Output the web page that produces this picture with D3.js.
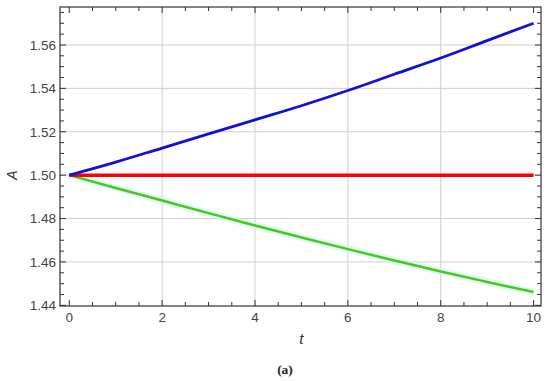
<!DOCTYPE html>
<html><head><meta charset="utf-8">
<script src="https://cdn.jsdelivr.net/npm/d3@7"></script>
<style>body{margin:0;background:#fff;} text{font-family:"Liberation Sans",Arial,sans-serif;}</style>
</head><body><svg id="c" width="550" height="381"></svg>
<script>
const tValues = [0,1,2,3,4,5,6,7,8,9,10];
const blueA  = [1.5,1.506,1.5125,1.519,1.5255,1.532,1.539,1.5465,1.554,1.562,1.570];
const redA   = [1.5,1.5,1.5,1.5,1.5,1.5,1.5,1.5,1.5,1.5,1.5];
const greenA = [1.5,1.4941,1.4883,1.4825,1.4768,1.4713,1.4659,1.4607,1.4556,1.4508,1.4461];
const xTicks = [0,2,4,6,8,10];
const yTicks = [1.44,1.46,1.48,1.50,1.52,1.54,1.56];

const svg = d3.select("#c");
const L=60,R=541,T=7,B=306;
const x = d3.scaleLinear().domain([-0.2,10.16]).range([L,R]);
const y = d3.scaleLinear().domain([1.4397,1.5775]).range([B,T]);

const g = svg.append("g");
g.selectAll(".gx").data(xTicks.filter(d=>d>0&&d<10)).enter().append("line")
 .attr("x1",d=>x(d)).attr("x2",d=>x(d)).attr("y1",T).attr("y2",B)
 .attr("stroke","#cfcfcf").attr("stroke-width",1);
g.selectAll(".gy").data(yTicks.filter(d=>d>1.441)).enter().append("line")
 .attr("y1",d=>y(d)).attr("y2",d=>y(d)).attr("x1",L).attr("x2",R)
 .attr("stroke","#cfcfcf").attr("stroke-width",1);

const line = arr => d3.line().x((d,i)=>x(tValues[i])).y(d=>y(d)).curve(d3.curveMonotoneX)(arr);
svg.append("path").attr("d",line(greenA)).attr("fill","none").attr("stroke","#c8fbf0").attr("stroke-width",7).attr("opacity",0.6);
svg.append("path").attr("d",line(greenA)).attr("fill","none").attr("stroke","#4cc61a").attr("stroke-width",2.5);
svg.append("path").attr("d",line(redA)).attr("fill","none").attr("stroke","#ff0000").attr("stroke-width",3.5);
svg.append("path").attr("d",line(blueA)).attr("fill","none").attr("stroke","#1010d8").attr("stroke-width",2.8);

const col="#333";
const xMinor = d3.range(0,10.01,0.5);
const yMinor = d3.range(1.44,1.5751,0.005);
function xAx(pos, dir){
  const a = svg.append("g");
  a.selectAll("line").data(xMinor).enter().append("line")
   .attr("x1",d=>x(d)).attr("x2",d=>x(d)).attr("y1",pos)
   .attr("y2",d=>pos+dir*(Math.abs(d/2-Math.round(d/2))<1e-6?6:4))
   .attr("stroke",col).attr("stroke-width",1);
}
function yAx(pos, dir){
  const a = svg.append("g");
  a.selectAll("line").data(yMinor).enter().append("line")
   .attr("y1",d=>y(d)).attr("y2",d=>y(d)).attr("x1",pos)
   .attr("x2",d=>{const k=Math.round(d*1000); return pos+dir*(k%20===0?6:4);})
   .attr("stroke",col).attr("stroke-width",1);
}
xAx(B,-1); xAx(T,1); yAx(L,1); yAx(R,-1);
svg.append("rect").attr("x",L).attr("y",T).attr("width",R-L).attr("height",B-T)
 .attr("fill","none").attr("stroke",col).attr("stroke-width",1.2);

svg.selectAll(".xl").data(xTicks).enter().append("text")
 .attr("x",d=>x(d)).attr("y",B+15.5).attr("text-anchor","middle")
 .attr("font-size",13.5).attr("fill","#444").text(d=>d);
svg.selectAll(".yl").data(yTicks).enter().append("text")
 .attr("x",L-4).attr("y",d=>y(d)+4.8).attr("text-anchor","end")
 .attr("font-size",13.5).attr("fill","#444").text(d=>d.toFixed(2));
svg.append("text").attr("x",x(5)).attr("y",344).attr("text-anchor","middle")
 .attr("font-size",15).attr("font-style","italic").attr("fill","#333").text("t");
svg.append("text").attr("transform",`translate(17,${y(1.5)}) rotate(-90)`).attr("text-anchor","middle")
 .attr("font-size",14).attr("font-style","italic").attr("fill","#333").text("A");
svg.append("text").attr("x",285).attr("y",374).attr("text-anchor","middle")
 .attr("font-size",13.5).attr("font-weight","bold").attr("fill","#222")
 .style("font-family","'Liberation Serif',serif").text("(a)");
</script></body></html>
